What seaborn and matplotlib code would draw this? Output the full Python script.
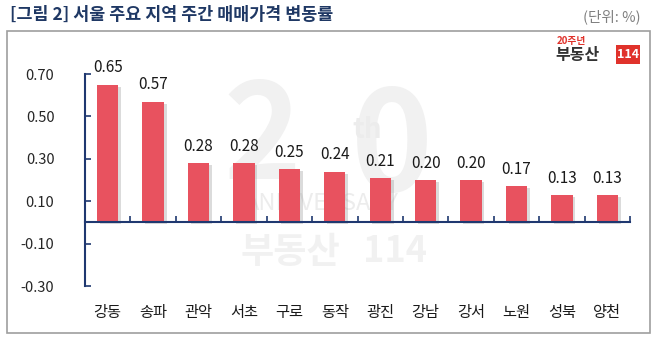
import matplotlib
matplotlib.use("Agg")
import matplotlib.pyplot as plt
import matplotlib.patheffects as pe
from matplotlib.patches import Rectangle
import seaborn as sns
import pandas as pd

regions = ["강동", "송파", "관악", "서초", "구로", "동작", "광진", "강남", "강서", "노원", "성북", "양천"]
values = [0.65, 0.57, 0.28, 0.28, 0.25, 0.24, 0.21, 0.20, 0.20, 0.17, 0.13, 0.13]
ytick_values = [0.70, 0.50, 0.30, 0.10, -0.10, -0.30]
title_text = "[그림 2] 서울 주요 지역 주간 매매가격 변동률"
unit_text = "(단위: %)"

sns.set_theme(style="white")
plt.rcParams["font.family"] = ["Noto Sans CJK KR", "DejaVu Sans"]

W, H = 653, 338
fig = plt.figure(figsize=(W / 100, H / 100), dpi=100)

def fx(px):
    return px / W

def fy(py):
    return 1 - py / H

# outer box
fig.patches.append(Rectangle((fx(7), fy(333)), fx(650) - fx(7), fy(31) - fy(333),
                             transform=fig.transFigure, fill=False, edgecolor="#9E9E9E", lw=1.2))

fig.text(fx(10), fy(15), title_text, fontsize=12.5, fontweight="bold", color="#1F3864",
         ha="left", va="center")
fig.text(fx(641), fy(17), unit_text, fontsize=10.5, color="#808080", ha="right", va="center")

# logo
fig.text(fx(557), fy(41), "20주년", fontsize=7, fontweight="bold", color="#E0322B", ha="left", va="center")
fig.text(fx(555), fy(55), "부동산", fontsize=11.5, fontweight="bold", color="#333333", ha="left", va="center")
fig.patches.append(Rectangle((fx(616), fy(64)), fx(640) - fx(616), fy(45) - fy(64),
                             transform=fig.transFigure, facecolor="#E0322B", edgecolor="none"))
fig.text(fx(628), fy(55), "114", fontsize=9, fontweight="bold", color="white", ha="center", va="center")

# watermark (behind the axes)
wm = "#F1F1F1"
wm2 = "#ECECEC"
fig.text(fx(262), fy(140), "2", fontsize=95, fontweight="bold", color=wm, ha="center", va="center", zorder=-2)
fig.text(fx(392), fy(150), "0", fontsize=100, fontweight="bold", color=wm, ha="center", va="center", zorder=-2)
fig.text(fx(367), fy(130), "th", fontsize=20, fontweight="bold", color=wm2, ha="center", va="center", zorder=-1)
fig.text(fx(322), fy(203), "ANNIVERSARY", fontsize=17, color=wm2, ha="center", va="center", zorder=-1)
fig.text(fx(290), fy(252), "부동산", fontsize=26, fontweight="bold", color=wm, ha="center", va="center", zorder=-1)
fig.text(fx(395), fy(252), "114", fontsize=26, fontweight="bold", color=wm, ha="center", va="center", zorder=-1)

ax = fig.add_axes([fx(85), fy(286), fx(630) - fx(85), fy(74) - fy(286)])
ax.patch.set_alpha(0)

df = pd.DataFrame({"region": regions, "value": values})
sns.barplot(data=df, x="region", y="value", color="#E8525F", width=0.47, ax=ax,
            saturation=1, edgecolor="none")

for bar in ax.patches:
    bar.set_path_effects([pe.SimplePatchShadow(offset=(2, -1.5), shadow_rgbFace="#9A9A9A", alpha=0.35),
                          pe.Normal()])
    bar.set_zorder(3)

ax.set_xlim(-0.5, len(regions) - 0.5)
ax.set_ylim(-0.30, 0.70)
ax.set_yticks(ytick_values)
ax.set_yticklabels([f"{v:.2f}" for v in ytick_values], fontsize=10.5, color="#262626")
ax.tick_params(axis="y", direction="in", length=4.5, width=1.2, color="#1F3870", pad=22, left=True)

ax.set_xticks([i + 0.5 for i in range(-1, len(regions))])
ax.set_xticklabels([])
ax.tick_params(axis="x", direction="in", length=4.5, width=1.2, color="#1F3870", bottom=True)

for s in ["top", "right"]:
    ax.spines[s].set_visible(False)
ax.spines["left"].set_color("#1F3870")
ax.spines["left"].set_linewidth(1.5)
ax.spines["bottom"].set_color("#1F3870")
ax.spines["bottom"].set_linewidth(1.5)
ax.spines["bottom"].set_position(("data", 0))
ax.spines["bottom"].set_zorder(4)
ax.set_xlabel("")
ax.set_ylabel("")

for i, (r, v) in enumerate(zip(regions, values)):
    ax.annotate(f"{v:.2f}", (i, v), xytext=(0, 6), textcoords="offset points",
                ha="center", va="bottom", fontsize=11, color="#1A1A1A", clip_on=False)
    ax.text(i, -0.123, r, transform=ax.get_xaxis_transform(), ha="center", va="center",
            fontsize=11, color="#1A1A1A")

fig.savefig("out.png", dpi=100)
